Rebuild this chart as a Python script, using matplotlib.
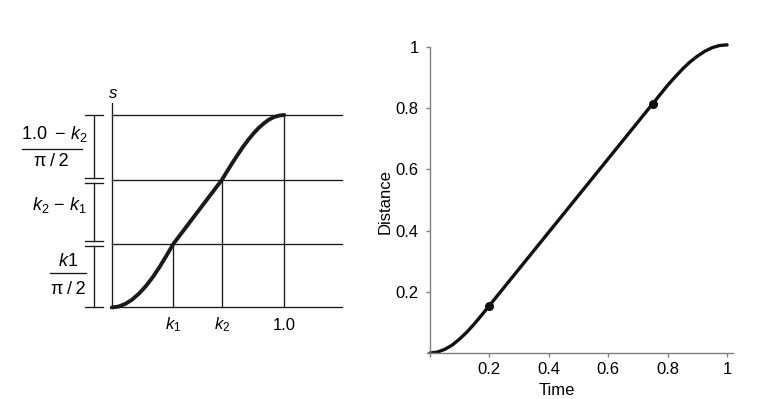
#!/usr/bin/env python3
# -*- coding: utf-8 -*-
"""
Sine ease-in / ease-out: schematic (left) and distance-time curve (right).
"""

import matplotlib
matplotlib.use("Agg")
import matplotlib.pyplot as plt

# ============== DATA ============== #
# left schematic: time breakpoints and distance levels
K1 = 0.357
K2 = 0.638
S1 = 0.330
S2 = 0.662
X_END = 1.333                       # right end of the horizontal guide lines
S_TOP = 1.062                       # top of the s axis

# left schematic curve
left_t = [0.0, 0.04, 0.08, 0.12, 0.16, 0.20, 0.24, 0.28, 0.32, 0.357,
          0.638, 0.67, 0.70, 0.73, 0.76, 0.79, 0.82, 0.85, 0.88, 0.91,
          0.94, 0.97, 1.0]
left_s = [0.0, 0.005, 0.019, 0.042, 0.074, 0.113, 0.160, 0.214, 0.273, 0.330,
          0.662, 0.709, 0.752, 0.793, 0.833, 0.869, 0.902, 0.931, 0.955,
          0.975, 0.989, 0.997, 1.0]

x_tick_vals = [K1, K2, 1.0]
x_tick_text = ["$k_1$", "$k_2$", "1.0"]

# right panel: distance over time
time = [0.0, 0.025, 0.05, 0.075, 0.10, 0.125, 0.15, 0.175, 0.20,
        0.25, 0.30, 0.35, 0.40, 0.45, 0.50, 0.55, 0.60, 0.65, 0.70, 0.75,
        0.775, 0.80, 0.825, 0.85, 0.875, 0.90, 0.925, 0.95, 0.975, 1.0]
distance = [0.0, 0.003, 0.012, 0.026, 0.046, 0.069, 0.096, 0.125, 0.155,
            0.215, 0.275, 0.335, 0.395, 0.455, 0.515, 0.575, 0.635, 0.695,
            0.755, 0.815, 0.845, 0.875, 0.902, 0.928, 0.951, 0.970, 0.986,
            0.998, 1.005, 1.007]
marker_t = [0.2, 0.75]
marker_d = [0.155, 0.815]

right_xticks = [0.0, 0.2, 0.4, 0.6, 0.8, 1.0]
right_xlabels = ["", "0.2", "0.4", "0.6", "0.8", "1"]
right_yticks = [0.2, 0.4, 0.6, 0.8, 1.0]
right_ylabels = ["0.2", "0.4", "0.6", "0.8", "1"]
# ================================== #

plt.rcParams["font.family"] = ["Liberation Sans", "DejaVu Sans"]
plt.rcParams["mathtext.fontset"] = "custom"
plt.rcParams["mathtext.rm"] = "Liberation Sans"
plt.rcParams["mathtext.it"] = "Liberation Sans:italic"

INK = "#1a1a1a"
THIN = 0.95
PI_2 = "\u03c0\u2009/\u20092"


def draw_schematic(ax):
    """Left panel: the piecewise ease curve with its construction lines."""
    ax.set_xlim(-0.6475, 1.4394)
    ax.set_ylim(-0.1948, 1.1818)
    ax.axis("off")

    # guide lines
    for lev in [0.0, S1, S2, 1.0]:
        ax.plot([0, X_END], [lev, lev], color=INK, lw=THIN)
    ax.plot([0, 0], [0, S_TOP], color=INK, lw=THIN)
    for xv, lev in zip([K1, K2, 1.0], [S1, S2, 1.0]):
        ax.plot([xv, xv], [0, lev], color=INK, lw=THIN)

    ax.plot(left_t, left_s, color=INK, lw=2.8, solid_capstyle="round",
            solid_joinstyle="round")

    ax.text(0.009, 1.113, "$s$", fontsize=12, ha="center", va="center")
    for xv, lab in zip(x_tick_vals, x_tick_text):
        ax.text(xv, -0.091, lab, fontsize=12, ha="center", va="center")

    # dimension bar with caps
    bx, cap = -0.101, 0.053
    gap = 0.013
    segs = [(0.0, S1 - gap), (S1 + gap, S2 - gap), (S2 + gap, 1.0)]
    for lo, hi in segs:
        ax.plot([bx, bx], [lo, hi], color=INK, lw=THIN)
        for yv in (lo, hi):
            ax.plot([bx - cap, bx + cap], [yv, yv], color=INK, lw=THIN)

    # labels of the three pieces
    ax.text(-0.334, 0.901, "1.0\u2009 \u2212 $k_2$", fontsize=13,
            ha="center", va="center")
    ax.plot([-0.522, -0.174], [0.825, 0.825], color=INK, lw=THIN)
    ax.text(-0.348, 0.757, PI_2, fontsize=13, ha="center", va="center")

    ax.text(-0.303, 0.532, "$k_2$ \u2212 $k_1$", fontsize=13,
            ha="center", va="center")

    ax.text(-0.252, 0.238, "$k$1", fontsize=13, ha="center", va="center")
    ax.plot([-0.358, -0.149], [0.178, 0.178], color=INK, lw=THIN)
    ax.text(-0.252, 0.095, PI_2, fontsize=13, ha="center", va="center")


def draw_distance(ax):
    """Right panel: distance against time with the two breakpoints."""
    ax.plot(time, distance, color="#111111", lw=2.4, solid_capstyle="round",
            solid_joinstyle="round")
    ax.plot(marker_t, marker_d, "o", color="#111111", ms=5.5)

    ax.set_xlim(-0.01, 1.02)
    ax.set_ylim(0, 1.02)
    for side in ("top", "right"):
        ax.spines[side].set_visible(False)
    for side in ("left", "bottom"):
        ax.spines[side].set_color("#808080")
        ax.spines[side].set_linewidth(1.0)
    ax.spines["left"].set_position(("data", 0))
    ax.spines["left"].set_bounds(0, 1)

    ax.set_xticks(right_xticks, right_xlabels)
    ax.set_yticks(right_yticks, right_ylabels)
    ax.tick_params(axis="x", length=3, width=1, color="#808080",
                   labelsize=12, pad=3.5)
    ax.tick_params(axis="y", length=3, width=1, color="#808080",
                   labelsize=12, pad=5)

    ax.set_xlabel("Time", fontsize=12)
    ax.xaxis.set_label_coords(0.424, -0.1186)
    ax.xaxis.label.set_va("center")
    ax.set_ylabel("Distance", fontsize=12)
    ax.yaxis.set_label_coords(-0.137, 0.4856)
    ax.yaxis.label.set_va("center")


def main() -> None:
    fig = plt.figure(figsize=(7.67, 3.99), dpi=100)
    ax_left = fig.add_axes([0.0, 0.13534, 0.46936, 0.66416])
    ax_right = fig.add_axes([0.55671, 0.11529, 0.39896, 0.7822])
    draw_schematic(ax_left)
    draw_distance(ax_right)
    fig.savefig("out.png", dpi=100)


if __name__ == "__main__":
    main()
